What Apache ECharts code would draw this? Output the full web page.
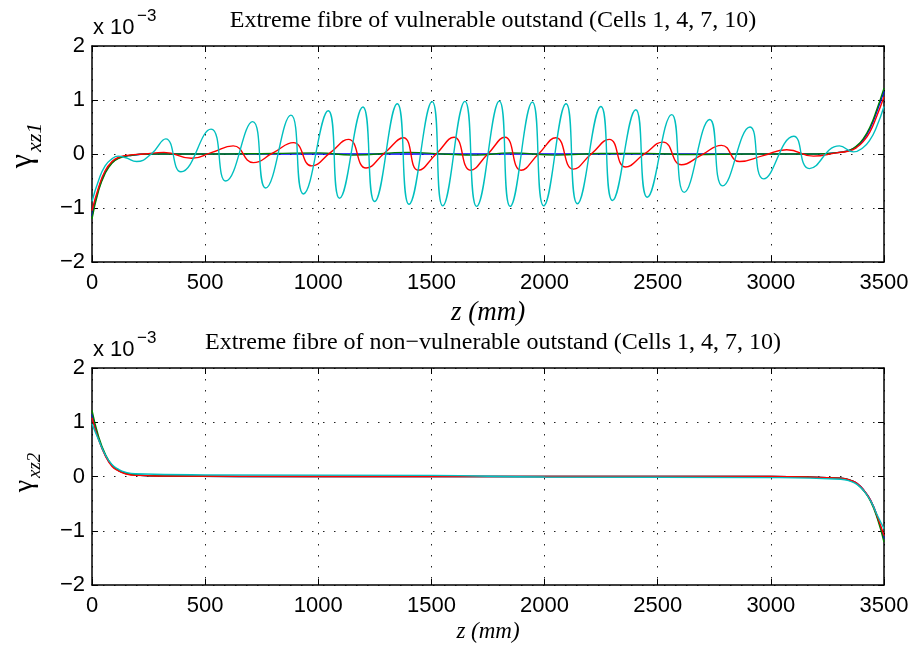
<!DOCTYPE html>
<html>
<head>
<meta charset="utf-8">
<script src="https://cdn.jsdelivr.net/npm/echarts@6/dist/echarts.min.js"></script>
<style>
  html, body { margin: 0; padding: 0; background: #fff; }
  #chart { width: 914px; height: 648px; }
</style>
</head>
<body>
<div id="chart"></div>
<script>
// tick values
const zTicks = [0, 500, 1000, 1500, 2000, 2500, 3000, 3500];
const gammaTicks = [-2, -1, 0, 1, 2];

// top panel: vulnerable outstand (x 1e-3)
const zTopBlue = [0, 29, 58, 88, 118, 162, 250, 1000, 2000, 3200, 3320, 3349, 3379, 3408, 3438, 3467, 3500];
const vTopBlue = [-1.15, -0.65, -0.34, -0.16, -0.07, -0.03, 0, 0, 0, 0, 0.04, 0.07, 0.14, 0.26, 0.47, 0.77, 1.16];

const zTopGreen = [0, 29, 58, 88, 118, 162, 250, 500, 800, 1000, 1150, 1400, 1550, 1700, 1850, 2050, 2250, 2450, 2650, 2900, 3200, 3320, 3349, 3379, 3408, 3438, 3467, 3500];
const vTopGreen = [-1.2, -0.68, -0.36, -0.17, -0.08, -0.03, 0, 0, 0.01, 0.02, -0.02, 0.03, 0, -0.02, 0.02, -0.02, 0.01, 0.01, -0.01, 0, 0, 0.04, 0.07, 0.15, 0.28, 0.5, 0.81, 1.22];

const zTopRed = [0, 29, 58, 88, 118, 162, 230, 318, 440, 530, 624, 713, 800, 890, 971, 1052, 1133, 1211, 1293, 1376, 1442, 1521, 1600, 1673, 1749, 1825, 1896, 1973, 2050, 2127, 2206, 2286, 2358, 2441, 2524, 2605, 2693, 2782, 2862, 2966, 3070, 3188, 3290, 3349, 3379, 3408, 3438, 3467, 3500];
const vTopRed = [-1.05, -0.62, -0.31, -0.14, -0.06, -0.02, 0, 0.03, -0.08, 0.03, 0.15, -0.16, 0.02, 0.21, -0.22, 0.02, 0.27, -0.26, 0.02, 0.3, -0.3, 0, 0.31, -0.3, 0, 0.31, -0.3, 0, 0.3, -0.28, 0, 0.27, -0.24, 0, 0.22, -0.2, -0.02, 0.16, -0.14, -0.03, 0.08, -0.04, 0.02, 0.06, 0.12, 0.23, 0.41, 0.69, 1.06];

const zTopCyan = [0, 29, 58, 88, 115, 150, 197, 262, 326, 393, 526, 591, 710, 767, 879, 934, 1044, 1094, 1197, 1249, 1349, 1401, 1503, 1550, 1648, 1700, 1800, 1848, 1946, 1996, 2095, 2145, 2249, 2300, 2403, 2454, 2562, 2617, 2730, 2787, 2908, 2968, 3101, 3170, 3303, 3365, 3408, 3438, 3467, 3500];
const vTopCyan = [-0.88, -0.49, -0.22, -0.09, -0.04, -0.07, -0.14, 0, 0.28, -0.33, 0.46, -0.5, 0.6, -0.63, 0.72, -0.74, 0.8, -0.82, 0.87, -0.88, 0.93, -0.93, 0.97, -0.96, 0.975, -0.97, 0.98, -0.97, 0.96, -0.96, 0.93, -0.92, 0.88, -0.86, 0.82, -0.8, 0.73, -0.71, 0.64, -0.59, 0.5, -0.46, 0.33, -0.27, 0.15, 0.04, 0.12, 0.26, 0.5, 0.88];

// bottom panel: non-vulnerable outstand (x 1e-3)
const zBotBlue = [0, 29, 59, 88, 118, 147, 191, 300, 1000, 3000, 3309, 3353, 3382, 3412, 3441, 3471, 3500];
const vBotBlue = [1.15, 0.7, 0.39, 0.2, 0.11, 0.06, 0.03, 0.01, 0, 0, -0.03, -0.07, -0.13, -0.26, -0.44, -0.75, -1.15];

const zBotGreen = [0, 29, 59, 88, 118, 147, 191, 300, 1000, 3000, 3309, 3353, 3382, 3412, 3441, 3471, 3500];
const vBotGreen = [1.22, 0.74, 0.41, 0.21, 0.11, 0.06, 0.03, 0.01, 0, 0, -0.03, -0.07, -0.14, -0.27, -0.46, -0.78, -1.21];

const zBotRed = [0, 29, 59, 88, 118, 147, 191, 300, 1000, 3000, 3309, 3353, 3382, 3412, 3441, 3471, 3500];
const vBotRed = [1.08, 0.68, 0.38, 0.19, 0.1, 0.05, 0.02, 0.01, 0, 0, -0.03, -0.07, -0.13, -0.26, -0.44, -0.74, -1.09];

const zBotCyan = [0, 29, 59, 88, 118, 147, 191, 500, 1500, 2000, 3000, 3309, 3353, 3382, 3412, 3441, 3471, 3500];
const vBotCyan = [0.97, 0.68, 0.4, 0.22, 0.13, 0.08, 0.05, 0.03, 0.02, -0.01, -0.02, -0.05, -0.09, -0.15, -0.27, -0.45, -0.72, -0.96];

const colors = { blue: '#0000ff', green: '#008000', red: '#ff0000', cyan: '#00bfbf' };

const pairs = (zs, vs) => zs.map((z, i) => [z, vs[i]]);

const sans = 'Liberation Sans, Arial, sans-serif';
const serif = 'Liberation Serif, Times New Roman, serif';

const dotted = { color: '#222', width: 1, type: [1.5, 9.5] };
const boxLine = { show: true, onZero: false, lineStyle: { color: '#000', width: 1.5 } };
const inTick = { show: true, inside: true, length: 6, lineStyle: { color: '#000', width: 1 } };

function xAxes(grid, nameSize, nameGap) {
  return [
    {
      gridIndex: grid, type: 'value', min: zTicks[0], max: zTicks[zTicks.length - 1], interval: 500,
      axisLine: boxLine, axisTick: inTick,
      axisLabel: { color: '#000', fontFamily: sans, fontSize: 22, margin: 10, formatter: v => String(v) },
      splitLine: { show: true, lineStyle: dotted },
      name: 'z (mm)', nameLocation: 'middle', nameGap: nameGap,
      nameTextStyle: { color: '#000', fontFamily: serif, fontStyle: 'italic', fontSize: nameSize }
    },
    {
      gridIndex: grid, type: 'value', position: 'top', min: 0, max: 3500, interval: 500,
      axisLine: boxLine, axisTick: inTick, axisLabel: { show: false }, splitLine: { show: false }
    }
  ];
}

function yAxes(grid) {
  return [
    {
      gridIndex: grid, type: 'value', min: gammaTicks[0], max: gammaTicks[gammaTicks.length - 1], interval: 1,
      axisLine: boxLine, axisTick: inTick,
      axisLabel: {
        color: '#000', fontFamily: sans, fontSize: 22, margin: 7,
        formatter: v => String(v).replace('-', '\u2212')
      },
      splitLine: { show: true, lineStyle: dotted }
    },
    {
      gridIndex: grid, type: 'value', position: 'right', min: -2, max: 2, interval: 1,
      axisLine: boxLine, axisTick: inTick, axisLabel: { show: false }, splitLine: { show: false }
    }
  ];
}

function line(name, data, color, axisIdx) {
  return {
    name: name, type: 'line', data: data,
    xAxisIndex: axisIdx, yAxisIndex: axisIdx,
    showSymbol: false, smooth: 0.5, smoothMonotone: 'none',
    lineStyle: { color: color, width: 1.4 }, itemStyle: { color: color },
    z: 3
  };
}

function gammaName(x, y, sub, big, small) {
  return {
    type: 'group', x: x, y: y, rotation: Math.PI / 2,
    children: [
      { type: 'text', x: 0, y: 0, style: { text: '\u03b3', font: big + 'px ' + serif, fill: '#000', textAlign: 'right', textVerticalAlign: 'middle' } },
      { type: 'text', x: 2, y: small * 0.55, style: { text: sub, font: 'italic ' + small + 'px ' + serif, fill: '#000', textAlign: 'left', textVerticalAlign: 'middle' } }
    ]
  };
}

function exponent(x, y) {
  return {
    type: 'group', x: x, y: y,
    children: [
      { type: 'text', x: 0, y: 0, style: { text: 'x 10', font: '22px ' + sans, fill: '#000', textVerticalAlign: 'middle' } },
      { type: 'text', x: 44, y: -12, style: { text: '\u22123', font: '17px ' + sans, fill: '#000', textVerticalAlign: 'middle' } }
    ]
  };
}

const myChart = echarts.init(document.getElementById('chart'));

const option = {
  animation: false,
  backgroundColor: '#fff',
  title: [
    { text: 'Extreme fibre of vulnerable outstand (Cells 1, 4, 7, 10)', left: 488, top: 4, textAlign: 'center',
      textStyle: { fontFamily: serif, fontWeight: 'normal', fontSize: 24, color: '#000' } },
    { text: 'Extreme fibre of non\u2212vulnerable outstand (Cells 1, 4, 7, 10)', left: 488, top: 326, textAlign: 'center',
      textStyle: { fontFamily: serif, fontWeight: 'normal', fontSize: 24, color: '#000' } }
  ],
  grid: [
    { left: 92, top: 46, width: 792, height: 216, show: false },
    { left: 92, top: 368, width: 792, height: 217, show: false }
  ],
  xAxis: [].concat(xAxes(0, 27, 37), xAxes(1, 23, 35)),
  yAxis: [].concat(yAxes(0), yAxes(1)),
  graphic: [
    gammaName(23, 154, 'xz1', 32, 22),
    gammaName(25, 480, 'xz2', 28, 19),
    exponent(93, 28),
    exponent(93, 350)
  ],
  series: [
    line('Cell 1', pairs(zTopBlue, vTopBlue), colors.blue, 0),
    line('Cell 4', pairs(zTopGreen, vTopGreen), colors.green, 0),
    line('Cell 7', pairs(zTopRed, vTopRed), colors.red, 0),
    line('Cell 10', pairs(zTopCyan, vTopCyan), colors.cyan, 0),
    line('Cell 1', pairs(zBotBlue, vBotBlue), colors.blue, 2),
    line('Cell 4', pairs(zBotGreen, vBotGreen), colors.green, 2),
    line('Cell 7', pairs(zBotRed, vBotRed), colors.red, 2),
    line('Cell 10', pairs(zBotCyan, vBotCyan), colors.cyan, 2)
  ]
};

option && myChart.setOption(option);
</script>
</body>
</html>
